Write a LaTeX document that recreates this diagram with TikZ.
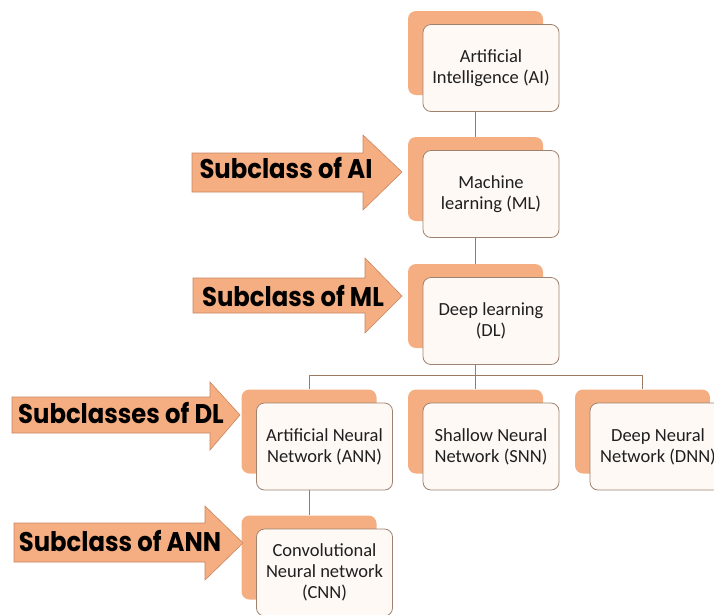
\documentclass[tikz,border=0pt]{standalone}
\usepackage{fontspec}
\setmainfont{Carlito}
\newfontfamily\heavyfont{Poppins}[FakeStretch=0.9]
\usetikzlibrary{positioning}
\definecolor{peach}{HTML}{F4AE82}
\definecolor{peachline}{HTML}{C98660}
\definecolor{boxline}{HTML}{9E8270}
\definecolor{boxfill}{HTML}{FFF9F5}
\definecolor{linkline}{HTML}{9C7A62}

\begin{document}
\begin{tikzpicture}[
  x=1pt, y=-1pt,
  back/.style={rectangle, rounded corners=8pt, fill=peach, inner sep=0pt,
    minimum width=135pt, minimum height=84pt},
  front/.style={rectangle, rounded corners=8pt, draw=boxline, fill=boxfill, line width=0.8pt,
    minimum width=136pt, minimum height=87pt, inner sep=2pt, font=\fontsize{18.5}{21}\selectfont,
    text=black!88, align=center},
  link/.style={draw=linkline, line width=0.8pt},
  pointer/.style={draw=peachline, fill=peach, line width=0.6pt, line join=miter},
  tag/.style={font=\heavyfont\bfseries\fontsize{27}{30}\selectfont, inner sep=0pt},
]
  \useasboundingbox (0,0) rectangle (714,614);

  \node[back] (ai-b) at (475.5,53) {};
  \node[back] (ml-b) at (475.5,179) {};
  \node[back] (dl-b) at (475.5,306) {};
  \node[back] (ann-b) at (309,431.5) {};
  \node[back] (snn-b) at (475.5,431.5) {};
  \node[back] (dnn-b) at (642.5,431.5) {};
  \node[back] (cnn-b) at (309,557.5) {};

  \node[front] (ai) at (491,68) {Artificial\\Intelligence (AI)};
  \node[front] (ml) at (491,194) {Machine\\learning (ML)};
  \node[front] (dl) at (491,321) {Deep learning\\(DL)};
  \node[front] (ann) at (324.5,446.5) {Artificial Neural\\Network (ANN)};
  \node[front] (snn) at (491,446.5) {Shallow Neural\\Network (SNN)};
  \node[front] (dnn) at (658,446.5) {Deep Neural\\Network (DNN)};
  \node[front] (cnn) at (324.5,572.5) {Convolutional\\Neural network\\(CNN)};

  \coordinate (split) at (475.5,375);
  \draw[link] (ai.south -| ml-b.north) -- (ml-b.north);
  \draw[link] (ml.south -| dl-b.north) -- (dl-b.north);
  \draw[link] (dl.south -| split) -- (split);
  \draw[link] (ann-b.north) |- (split) -| (dnn-b.north);
  \draw[link] (split) -- (snn-b.north);
  \draw[link] (ann.south -| cnn-b.north) -- (cnn-b.north);

  \draw[pointer] (192,153) -- (363,153) -- (363,135) -- (402,172) -- (363,210) -- (363,192) -- (192,192) -- cycle;
  \draw[pointer] (193,278) -- (365,278) -- (365,258) -- (402,296) -- (365,333) -- (365,313) -- (193,313) -- cycle;
  \draw[pointer] (12,397) -- (210,397) -- (210,382) -- (240,415) -- (210,450) -- (210,433) -- (12,433) -- cycle;
  \draw[pointer] (14,523) -- (205,523) -- (205,506) -- (243,543) -- (205,580) -- (205,562) -- (14,562) -- cycle;

  \node[tag] (t-ai) at (286,168) {Subclass of AI};
  \node[tag] (t-ml) at (293,296) {Subclass of ML};
  \node[tag] (t-dl) at (121,413) {Subclasses of DL};
  \node[tag] (t-ann) at (120,541) {Subclass of ANN};
\end{tikzpicture}
\end{document}
